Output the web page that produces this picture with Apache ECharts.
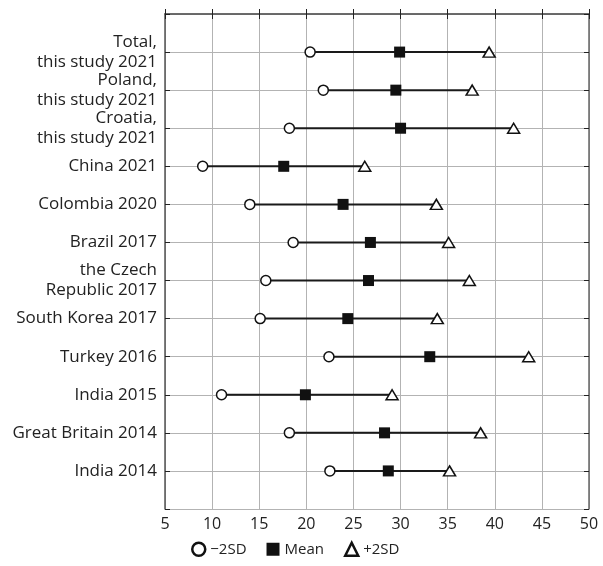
<!DOCTYPE html>
<html>
<head>
<meta charset="utf-8">
<script src="https://cdn.jsdelivr.net/npm/echarts@6/dist/echarts.min.js"></script>
<style>html,body{margin:0;padding:0;background:#fff}#c{width:603px;height:566px}</style>
</head>
<body>
<div id="c"></div>
<script>
const categories = [
  'Total,\nthis study 2021',
  'Poland,\nthis study 2021',
  'Croatia,\nthis study 2021',
  'China 2021',
  'Colombia 2020',
  'Brazil 2017',
  'the Czech\nRepublic 2017',
  'South Korea 2017',
  'Turkey 2016',
  'India 2015',
  'Great Britain 2014',
  'India 2014'
];
const minus2SD = [20.4, 21.8, 18.2, 9.0, 14.0, 18.6, 15.7, 15.1, 22.4, 11.0, 18.2, 22.5];
const meanVals = [29.9, 29.5, 30.0, 17.6, 23.9, 26.8, 26.6, 24.4, 33.1, 19.9, 28.3, 28.7];
const plus2SD  = [39.4, 37.6, 42.0, 26.2, 33.8, 35.1, 37.3, 33.9, 43.6, 29.1, 38.5, 35.2];
const xTicks = [5, 10, 15, 20, 25, 30, 35, 40, 45, 50];

const FONT = 'Open Sans';
const chart = echarts.init(document.getElementById('c'));
const pos = i => i + 1;
const rangeData = categories.map((c, i) => [minus2SD[i], plus2SD[i], pos(i)]);

chart.setOption({
  animation: false,
  textStyle: { fontFamily: FONT },
  grid: { left: 165, right: 14, top: 14, bottom: 57 },
  legend: {
    bottom: 4,
    left: 186,
    itemWidth: 13, itemHeight: 13, itemGap: 20,
    textStyle: { fontSize: 15, color: '#222', fontFamily: FONT },
    data: [
      { name: '\u22122SD', icon: 'circle', itemStyle: { color: '#fff', borderColor: '#111', borderWidth: 2.5 } },
      { name: 'Mean', icon: 'rect', itemStyle: { color: '#111', borderWidth: 0 } },
      { name: '+2SD', icon: 'triangle', itemStyle: { color: '#fff', borderColor: '#111', borderWidth: 2.5 } }
    ]
  },
  xAxis: [{
    type: 'value', min: 5, max: 50, interval: 5,
    axisLine: { show: true, lineStyle: { color: '#555', width: 1.5 } },
    axisTick: { show: true, inside: true, length: 5, lineStyle: { color: '#222' } },
    axisLabel: { fontSize: 16, color: '#222', margin: 7, formatter: v => xTicks.includes(v) ? String(v) : '' },
    splitLine: { show: true, lineStyle: { color: '#b3b3b3', width: 1 } }
  }, {
    type: 'value', min: 5, max: 50, interval: 5, position: 'top',
    axisLine: { show: true, lineStyle: { color: '#666', width: 1.5 } },
    axisTick: { show: true, inside: true, length: 5, lineStyle: { color: '#222' } },
    axisLabel: { show: false },
    splitLine: { show: false }
  }],
  yAxis: [{
    type: 'value', min: 0, max: 13, interval: 1, inverse: true,
    axisLine: { show: true, lineStyle: { color: '#555', width: 1.5 } },
    axisTick: { show: true, inside: true, length: 5, lineStyle: { color: '#222' } },
    axisLabel: {
      fontSize: 17, color: '#222', margin: 8, align: 'right', lineHeight: 20,
      formatter: v => categories[v - 1] || ''
    },
    splitLine: { show: true, lineStyle: { color: '#b3b3b3', width: 1 } }
  }, {
    type: 'value', min: 0, max: 13, interval: 1, inverse: true, position: 'right',
    axisLine: { show: true, lineStyle: { color: '#666', width: 1.5 } },
    axisTick: { show: true, inside: true, length: 5, lineStyle: { color: '#222' } },
    axisLabel: { show: false },
    splitLine: { show: false }
  }],
  series: [
    {
      type: 'custom',
      name: 'range',
      z: 2,
      data: rangeData,
      renderItem: (params, api) => {
        const p1 = api.coord([api.value(0), api.value(2)]);
        const p2 = api.coord([api.value(1), api.value(2)]);
        return { type: 'line', shape: { x1: p1[0], y1: p1[1], x2: p2[0], y2: p2[1] }, style: { stroke: '#1a1a1a', lineWidth: 2 } };
      }
    },
    {
      type: 'scatter', name: '\u22122SD', z: 5,
      symbol: 'circle', symbolSize: 10,
      itemStyle: { color: '#fff', borderColor: '#111', borderWidth: 1.5, opacity: 1 },
      data: minus2SD.map((v, i) => [v, pos(i)])
    },
    {
      type: 'scatter', name: 'Mean', z: 5,
      symbol: 'rect', symbolSize: 11,
      itemStyle: { color: '#111', opacity: 1 },
      data: meanVals.map((v, i) => [v, pos(i)])
    },
    {
      type: 'scatter', name: '+2SD', z: 5,
      symbol: 'triangle', symbolSize: [12, 10],
      itemStyle: { color: '#fff', borderColor: '#111', borderWidth: 1.5, opacity: 1 },
      data: plus2SD.map((v, i) => [v, pos(i)])
    }
  ]
});
</script>
</body>
</html>
